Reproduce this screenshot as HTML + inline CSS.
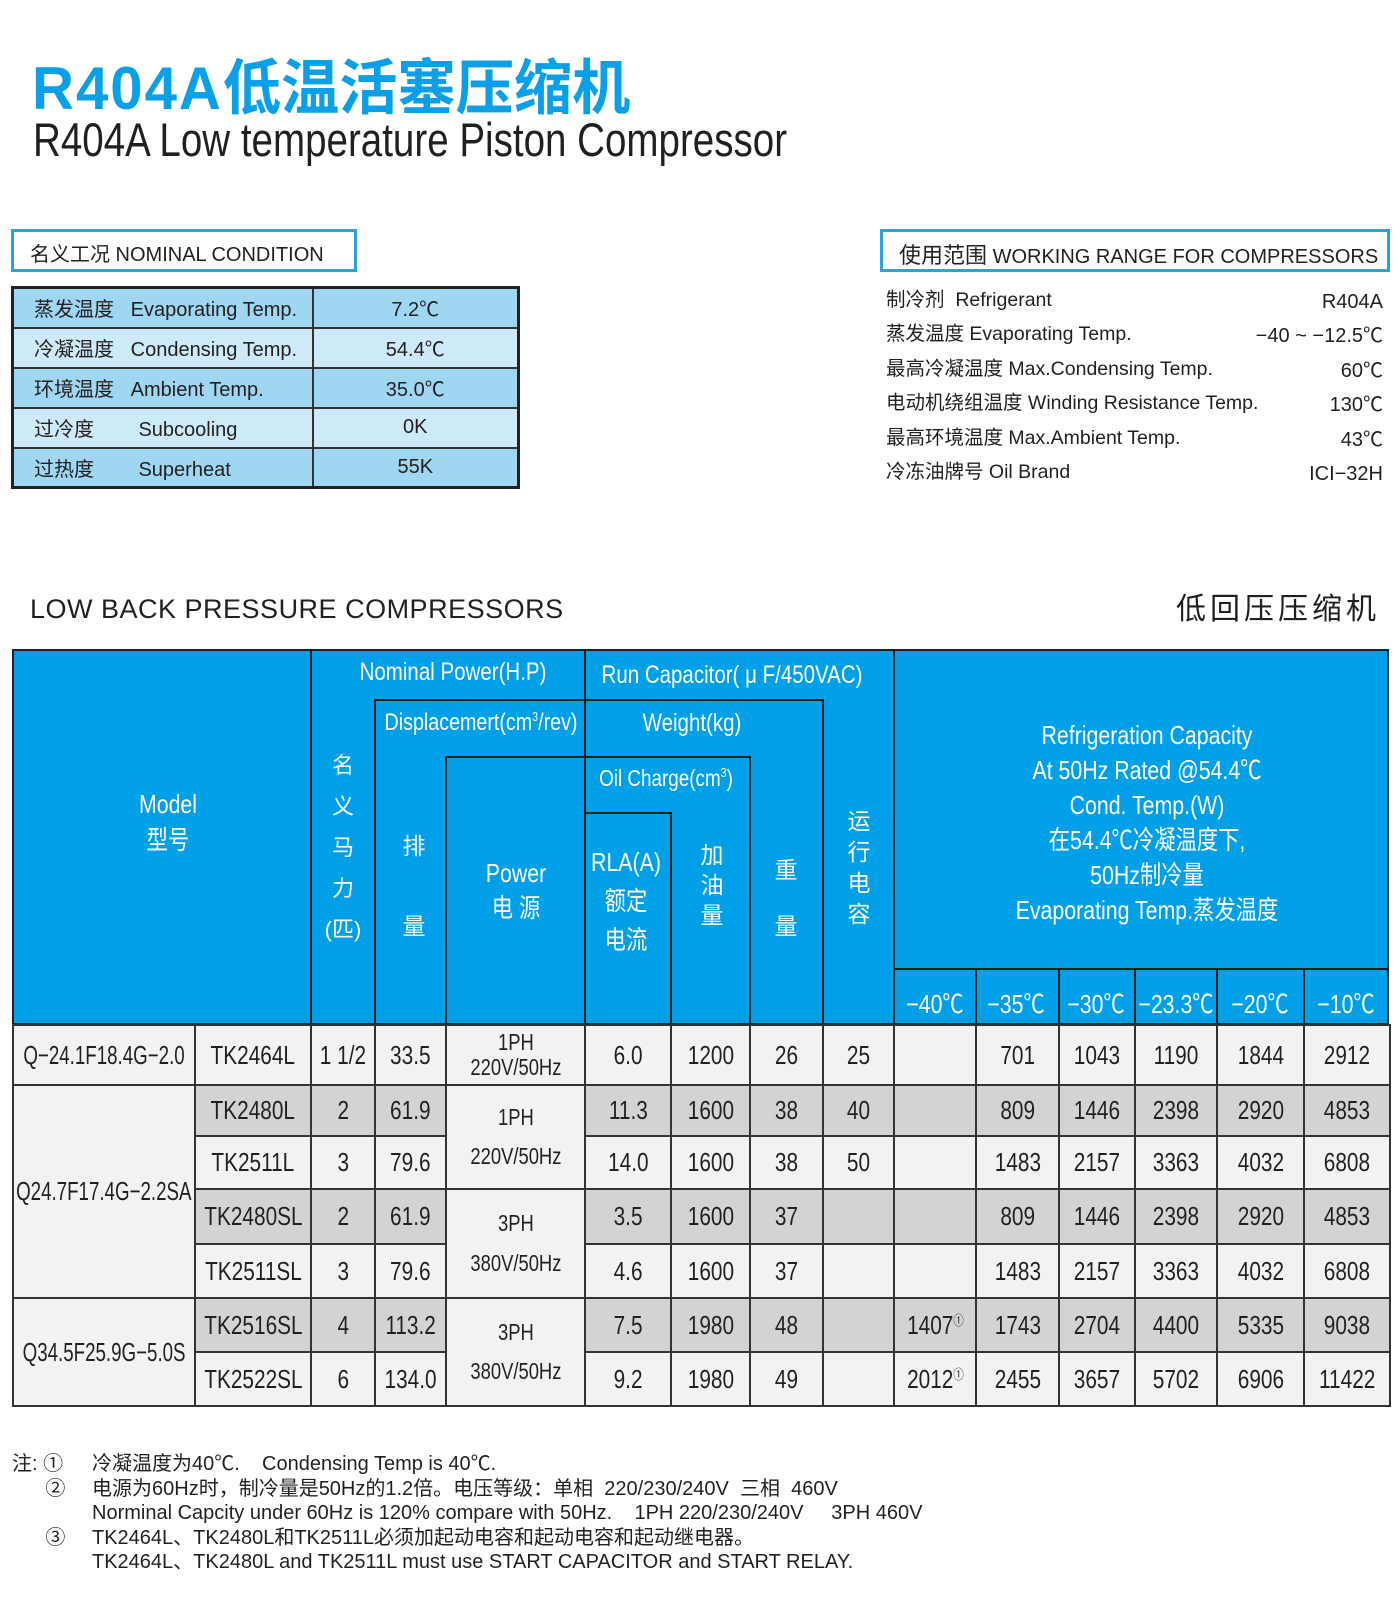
<!DOCTYPE html>
<html><head><meta charset="utf-8">
<style>
*{margin:0;padding:0;box-sizing:border-box}
body{width:1400px;height:1600px;background:#fff;position:relative;overflow:hidden;font-family:"Liberation Sans","Noto Sans CJK SC",sans-serif;color:#231f20}
.a{position:absolute;white-space:nowrap}
.c{transform:translateX(-50%);text-align:center}
.n{transform:scaleX(.82)}
.c.n{transform:translateX(-50%) scaleX(.82)}
.hl{position:absolute;background:#1d1d1d;height:2px}
.vl{position:absolute;background:#1d1d1d;width:2px}
.w{color:#fff}
table.nc{position:absolute;left:11px;top:286px;width:509px;border-collapse:collapse;border:3px solid #222}
table.nc td{border:2px solid #333;height:40px;font-size:20px;padding-left:20px}
table.body{position:absolute;left:12px;top:1024px;width:1377px;border-collapse:collapse;table-layout:fixed;border:2px solid #222}
table.body td{border:2px solid #333;text-align:center;font-size:26px;background:#f2f2f2;line-height:1.1;overflow:visible;white-space:nowrap;padding:0}
table.body td span{display:inline-block;transform:scaleX(.8);margin:0 -40px}
table.body td.m span{transform:scaleX(.72)}
table.body td.s{font-size:23px}
table.body td.g{background:#d3d3d3}
sup{font-size:13px;vertical-align:9px}
</style></head><body>

<div class="a" style="left:32px;top:40px;font-size:60px;font-weight:bold;color:#0aa0e8;letter-spacing:2px;transform:scaleX(.97);transform-origin:left">R404A<span style="letter-spacing:0">低温活塞压缩机</span></div>
<div class="a" style="left:33px;top:112px;font-size:47px;color:#231f20;transform:scaleX(.82);transform-origin:left">R404A Low temperature Piston Compressor</div>

<div class="a" style="left:11px;top:229px;width:346px;height:43px;border:3px solid #2aa3dc;font-size:20px;padding:6px 0 0 16px">名义工况 NOMINAL CONDITION</div>
<table class="nc">
<tr style="background:#9fd6f2"><td style="width:300px">蒸发温度&nbsp;&nbsp;&nbsp;Evaporating Temp.</td><td style="text-align:center;padding:0">7.2℃</td></tr>
<tr style="background:#cdeaf9"><td>冷凝温度&nbsp;&nbsp;&nbsp;Condensing Temp.</td><td style="text-align:center;padding:0">54.4℃</td></tr>
<tr style="background:#9fd6f2"><td>环境温度&nbsp;&nbsp;&nbsp;Ambient Temp.</td><td style="text-align:center;padding:0">35.0℃</td></tr>
<tr style="background:#cdeaf9"><td>过冷度&nbsp;&nbsp;&nbsp;&nbsp;&nbsp;&nbsp;&nbsp;&nbsp;Subcooling</td><td style="text-align:center;padding:0">0K</td></tr>
<tr style="background:#9fd6f2"><td>过热度&nbsp;&nbsp;&nbsp;&nbsp;&nbsp;&nbsp;&nbsp;&nbsp;Superheat</td><td style="text-align:center;padding:0">55K</td></tr>
</table>

<div class="a" style="left:880px;top:229px;width:510px;height:43px;border:3px solid #2aa3dc;font-size:20px;padding:6px 0 0 16px"><span style="font-size:22px">使用范围</span> WORKING RANGE FOR COMPRESSORS</div>
<div class="a" style="left:886px;top:283px;font-size:19.5px;line-height:34.4px">制冷剂&nbsp; Refrigerant<br>蒸发温度 Evaporating Temp.<br>最高冷凝温度 Max.Condensing Temp.<br>电动机绕组温度 Winding Resistance Temp.<br>最高环境温度 Max.Ambient Temp.<br>冷冻油牌号 Oil Brand</div>
<div class="a" style="right:17px;top:285px;font-size:20px;line-height:34.4px;text-align:right">R404A<br>−40 ~ −12.5℃<br>60℃<br>130℃<br>43℃<br>ICI−32H</div>

<div class="a" style="left:30px;top:594px;font-size:27px;letter-spacing:0.5px">LOW BACK PRESSURE COMPRESSORS</div>
<div class="a" style="right:20px;top:584px;font-size:30px;letter-spacing:4px">低回压压缩机</div>

<!-- header -->
<div class="a" style="left:12px;top:649px;width:1377px;height:376px;background:#00a0e9;border:2px solid #222"></div>
<div class="vl" style="left:310px;top:649px;height:376px"></div>
<div class="vl" style="left:584px;top:649px;height:376px"></div>
<div class="vl" style="left:893px;top:649px;height:376px"></div>
<div class="hl" style="left:374px;top:699px;width:450px"></div>
<div class="vl" style="left:374px;top:699px;height:326px"></div>
<div class="vl" style="left:822px;top:699px;height:326px"></div>
<div class="hl" style="left:445px;top:756px;width:306px"></div>
<div class="vl" style="left:445px;top:756px;height:269px"></div>
<div class="vl" style="left:749px;top:756px;height:269px"></div>
<div class="hl" style="left:584px;top:812px;width:88px"></div>
<div class="vl" style="left:670px;top:812px;height:213px"></div>
<div class="hl" style="left:893px;top:968px;width:496px"></div>
<div class="vl" style="left:975px;top:968px;height:57px"></div>
<div class="vl" style="left:1058px;top:968px;height:57px"></div>
<div class="vl" style="left:1134px;top:968px;height:57px"></div>
<div class="vl" style="left:1216px;top:968px;height:57px"></div>
<div class="vl" style="left:1303px;top:968px;height:57px"></div>

<div class="a c w n" style="left:453px;top:658px;font-size:25px">Nominal Power(H.P)</div>
<div class="a c w n" style="left:732px;top:661px;font-size:25px">Run Capacitor( μ F/450VAC)</div>
<div class="a c w n" style="left:481px;top:709px;font-size:24px">Displacemert(cm<sup>3</sup>/rev)</div>
<div class="a c w n" style="left:692px;top:709px;font-size:25px">Weight(kg)</div>
<div class="a c w n" style="left:666px;top:765px;font-size:23px">Oil Charge(cm<sup>3</sup>)</div>
<div class="a c w n" style="left:168px;top:786px;font-size:26px;line-height:36px">Model<br>型号</div>
<div class="a c w" style="left:343px;top:745px;font-size:22px;line-height:41px">名<br>义<br>马<br>力<br>(匹)</div>
<div class="a c w" style="left:414px;top:806px;font-size:23px;line-height:80px">排<br>量</div>
<div class="a c w n" style="left:516px;top:856px;font-size:26px;line-height:35px">Power<br>电 源</div>
<div class="a c w n" style="left:626px;top:843px;font-size:26px;line-height:39px">RLA(A)<br>额定<br>电流</div>
<div class="a c w" style="left:712px;top:840px;font-size:23px;line-height:30px">加<br>油<br>量</div>
<div class="a c w" style="left:786px;top:842px;font-size:23px;line-height:56px">重<br>量</div>
<div class="a c w" style="left:859px;top:806px;font-size:23px;line-height:31px">运<br>行<br>电<br>容</div>
<div class="a c w n" style="left:1147px;top:718px;font-size:26px;line-height:35px">Refrigeration Capacity<br>At 50Hz Rated @54.4℃<br>Cond. Temp.(W)<br>在54.4℃冷凝温度下,<br>50Hz制冷量<br>Evaporating Temp.蒸发温度</div>
<div class="a c w n" style="left:935px;top:984px;font-size:26px">−40℃</div>
<div class="a c w n" style="left:1016px;top:984px;font-size:26px">−35℃</div>
<div class="a c w n" style="left:1096px;top:984px;font-size:26px">−30℃</div>
<div class="a c w n" style="left:1176px;top:984px;font-size:26px">−23.3℃</div>
<div class="a c w n" style="left:1260px;top:984px;font-size:26px">−20℃</div>
<div class="a c w n" style="left:1346px;top:984px;font-size:26px">−10℃</div>

<table class="body">
<colgroup><col style="width:182px"><col style="width:116px"><col style="width:64px"><col style="width:71px"><col style="width:139px"><col style="width:86px"><col style="width:79px"><col style="width:73px"><col style="width:71px"><col style="width:82px"><col style="width:83px"><col style="width:76px"><col style="width:82px"><col style="width:87px"><col style="width:86px"></colgroup>
<tr style="height:60px"><td class="m"><span>Q−24.1F18.4G−2.0</span></td><td><span>TK2464L</span></td><td><span>1 1/2</span></td><td><span>33.5</span></td><td class="s"><span>1PH<br>220V/50Hz</span></td><td><span>6.0</span></td><td><span>1200</span></td><td><span>26</span></td><td><span>25</span></td><td></td><td><span>701</span></td><td><span>1043</span></td><td><span>1190</span></td><td><span>1844</span></td><td><span>2912</span></td></tr>
<tr style="height:51px"><td rowspan="4" class="m"><span>Q24.7F17.4G−2.2SA</span></td><td class="g"><span>TK2480L</span></td><td class="g"><span>2</span></td><td class="g"><span>61.9</span></td><td rowspan="2" class="s" style="line-height:1.7"><span>1PH<br>220V/50Hz</span></td><td class="g"><span>11.3</span></td><td class="g"><span>1600</span></td><td class="g"><span>38</span></td><td class="g"><span>40</span></td><td class="g"></td><td class="g"><span>809</span></td><td class="g"><span>1446</span></td><td class="g"><span>2398</span></td><td class="g"><span>2920</span></td><td class="g"><span>4853</span></td></tr>
<tr style="height:53px"><td><span>TK2511L</span></td><td><span>3</span></td><td><span>79.6</span></td><td><span>14.0</span></td><td><span>1600</span></td><td><span>38</span></td><td><span>50</span></td><td></td><td><span>1483</span></td><td><span>2157</span></td><td><span>3363</span></td><td><span>4032</span></td><td><span>6808</span></td></tr>
<tr style="height:55px"><td class="g"><span>TK2480SL</span></td><td class="g"><span>2</span></td><td class="g"><span>61.9</span></td><td rowspan="2" class="s" style="line-height:1.7"><span>3PH<br>380V/50Hz</span></td><td class="g"><span>3.5</span></td><td class="g"><span>1600</span></td><td class="g"><span>37</span></td><td class="g"></td><td class="g"></td><td class="g"><span>809</span></td><td class="g"><span>1446</span></td><td class="g"><span>2398</span></td><td class="g"><span>2920</span></td><td class="g"><span>4853</span></td></tr>
<tr style="height:54px"><td><span>TK2511SL</span></td><td><span>3</span></td><td><span>79.6</span></td><td><span>4.6</span></td><td><span>1600</span></td><td><span>37</span></td><td></td><td></td><td><span>1483</span></td><td><span>2157</span></td><td><span>3363</span></td><td><span>4032</span></td><td><span>6808</span></td></tr>
<tr style="height:54px"><td rowspan="2" class="m"><span>Q34.5F25.9G−5.0S</span></td><td class="g"><span>TK2516SL</span></td><td class="g"><span>4</span></td><td class="g"><span>113.2</span></td><td rowspan="2" class="s" style="line-height:1.7"><span>3PH<br>380V/50Hz</span></td><td class="g"><span>7.5</span></td><td class="g"><span>1980</span></td><td class="g"><span>48</span></td><td class="g"></td><td class="g"><span>1407<sup>①</sup></span></td><td class="g"><span>1743</span></td><td class="g"><span>2704</span></td><td class="g"><span>4400</span></td><td class="g"><span>5335</span></td><td class="g"><span>9038</span></td></tr>
<tr style="height:54px"><td><span>TK2522SL</span></td><td><span>6</span></td><td><span>134.0</span></td><td><span>9.2</span></td><td><span>1980</span></td><td><span>49</span></td><td></td><td><span>2012<sup>①</sup></span></td><td><span>2455</span></td><td><span>3657</span></td><td><span>5702</span></td><td><span>6906</span></td><td><span>11422</span></td></tr>
</table>

<div class="a" style="left:12px;top:1452px;font-size:20px;line-height:24.5px">注:&nbsp;①<br>&nbsp;&nbsp;&nbsp;&nbsp;&nbsp;&nbsp;②<br><br>&nbsp;&nbsp;&nbsp;&nbsp;&nbsp;&nbsp;③</div>
<div class="a" style="left:92px;top:1452px;font-size:20px;line-height:24.5px">冷凝温度为40℃.&nbsp;&nbsp;&nbsp; Condensing Temp is 40℃.<br>电源为60Hz时，制冷量是50Hz的1.2倍。电压等级：单相&nbsp; 220/230/240V&nbsp; 三相&nbsp; 460V<br>Norminal Capcity under 60Hz is 120% compare with 50Hz.&nbsp;&nbsp;&nbsp; 1PH 220/230/240V&nbsp;&nbsp;&nbsp;&nbsp; 3PH 460V<br>TK2464L、TK2480L和TK2511L必须加起动电容和起动电容和起动继电器。<br>TK2464L、TK2480L and TK2511L must use START CAPACITOR and START RELAY.</div>
</body></html>
